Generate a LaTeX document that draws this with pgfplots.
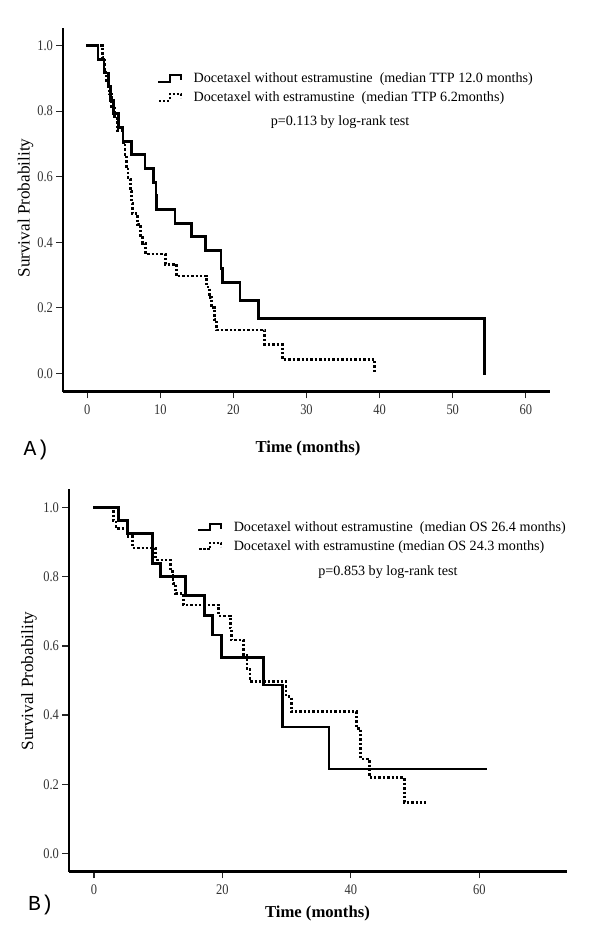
\documentclass[border=0pt]{standalone}
\usepackage{fontspec}
\setmainfont{Liberation Serif}
\newfontfamily\monofont{Liberation Mono}
\newfontfamily\ticksfont[FakeStretch=0.85]{Liberation Serif}
\usepackage{pgfplots}
\pgfplotsset{compat=1.18}

\pgfplotsset{
  kmaxis/.style={
    scale only axis,
    anchor=south west,
    axis x line*=bottom,
    axis y line*=left,
    axis line style={line width=1.9pt,-},
    tick align=outside,
    major tick length=5pt,
    every tick/.style={line width=0.9pt,black!85},
    ymin=-0.056, ymax=1.053,
    ytick={0,0.2,0.4,0.6,0.8,1.0},
    /pgf/number format/assume math mode=true,
    tick label style={font=\ticksfont\fontsize{11}{12}\selectfont, text=black!80},
    xticklabel style={yshift=-1.5pt},
    yticklabel style={xshift=1pt,/pgf/number format/.cd,fixed,fixed zerofill,precision=1},
    clip=false,
    legend cell align=left,
    legend style={draw=none, fill=none, anchor=north west,
      font=\fontsize{10.6}{13}\selectfont, inner sep=0pt, row sep=1.4pt,
      /tikz/every odd column/.append style={column sep=7pt}},
  },
  kmsolid/.style={const plot, black, line width=2pt, line cap=rect, line join=miter,
    legend image code/.code={\draw[black,line width=1.6pt] (0pt,-2pt) -- (8pt,-2pt) -- (8pt,3pt) -- (16pt,3pt) -- (16pt,0pt);}},
  kmdot/.style={const plot, black, line width=2pt, dash pattern=on 1.8pt off 1.5pt,
    legend image code/.code={\draw[black,line width=1.6pt,dash pattern=on 1.6pt off 1.4pt] (0pt,-2pt) -- (8pt,-2pt) -- (8pt,3pt) -- (16pt,3pt) -- (16pt,0pt);}},
}

\begin{document}
\begin{tikzpicture}
\path[use as bounding box] (0pt,0pt) rectangle (450pt,705pt);

% ---------------- Panel A ----------------
\begin{axis}[kmaxis,
  at={(47.25pt,411.225pt)},
  width=365.25pt, height=272.55pt,
  xmin=-3.3, xmax=63.3,
  xtick={0,10,20,30,40,50,60},
  legend style={at={(0.195,0.885)}},
]
\addplot[kmsolid] coordinates {
(0,1)(1.5,0.958)(2.3,0.917)(2.9,0.875)(3.2,0.833)(3.6,0.792)(4.3,0.75)(4.9,0.708)
(6.1,0.667)(7.9,0.625)(9.1,0.583)(9.4,0.542)(9.5,0.5)(12.0,0.458)(14.3,0.417)(16.2,0.375)
(18.3,0.32)(18.5,0.278)(20.9,0.222)(23.4,0.167)(54.3,0.167)(54.3,0)
};
\addlegendentry{Docetaxel without estramustine\ \ (median TTP 12.0 months)}
\addplot[kmdot] coordinates {
(0,1)(2.1,0.963)(2.4,0.926)(2.6,0.889)(3.0,0.852)(3.3,0.815)(3.7,0.778)(4.1,0.741)
(4.9,0.704)(5.2,0.667)(5.4,0.63)(5.6,0.593)(5.9,0.556)(6.1,0.519)(6.2,0.488)(6.9,0.455)
(7.3,0.42)(7.6,0.397)(8.0,0.364)(10.7,0.333)(12.2,0.297)(16.3,0.264)(16.7,0.232)(17.0,0.2)
(17.4,0.165)(17.7,0.132)(24.3,0.088)(26.7,0.043)(39.3,0.043)(39.3,0)
};
\addlegendentry{Docetaxel with estramustine\ \ (median TTP 6.2months)}
\node[font=\fontsize{10.6}{13}\selectfont] at (rel axis cs:0.569,0.742) {p=0.113 by log-rank test};
\end{axis}

% ---------------- Panel B ----------------
\begin{axis}[kmaxis,
  at={(51.75pt,51.225pt)},
  width=373.725pt, height=287.025pt,
  xmin=-3.9, xmax=73.7,
  ymin=-0.053, ymax=1.054,
  xtick={0,20,40,60},
  legend style={at={(0.259,0.922)}},
]
\addplot[kmsolid] coordinates {
(0,1)(3.8,0.962)(5.2,0.926)(9.1,0.839)(10.4,0.8)(14.2,0.745)(17.2,0.688)(18.4,0.632)
(19.9,0.566)(26.4,0.487)(29.4,0.366)(36.6,0.244)(61.0,0.244)
};
\addlegendentry{Docetaxel without estramustine\ \ (median OS 26.4 months)}
\addplot[kmdot] coordinates {
(0,1)(3.0,0.962)(3.4,0.94)(5.3,0.916)(6.0,0.883)(9.6,0.849)(11.9,0.815)(12.3,0.781)
(12.7,0.752)(13.9,0.718)(19.4,0.687)(21.2,0.652)(21.4,0.617)(23.3,0.574)(23.8,0.535)
(24.3,0.497)(29.9,0.453)(30.7,0.41)(40.9,0.362)(41.5,0.273)(42.9,0.219)(48.3,0.148)(51.7,0.148)
};
\addlegendentry{Docetaxel with estramustine (median OS 24.3 months)}
\node[font=\fontsize{10.6}{13}\selectfont] at (rel axis cs:0.640,0.784) {p=0.853 by log-rank test};
\end{axis}

% ---------------- Labels ----------------
\node[rotate=90, font=\fontsize{12.9}{14}\selectfont] at (19.1pt,549pt) {Survival Probability};
\node[font=\bfseries\fontsize{12.5}{14}\selectfont] at (231pt,369pt) {Time (months)};
\node[font=\monofont\fontsize{16}{17}\selectfont] at (27.4pt,367.5pt) {A)};

\node[rotate=90, font=\fontsize{12.9}{14}\selectfont] at (21.75pt,194.25pt) {Survival Probability};
\node[font=\bfseries\fontsize{12.5}{14}\selectfont] at (238.1pt,20.25pt) {Time (months)};
\node[font=\monofont\fontsize{16}{17}\selectfont] at (30.75pt,26.25pt) {B)};
\end{tikzpicture}
\end{document}
